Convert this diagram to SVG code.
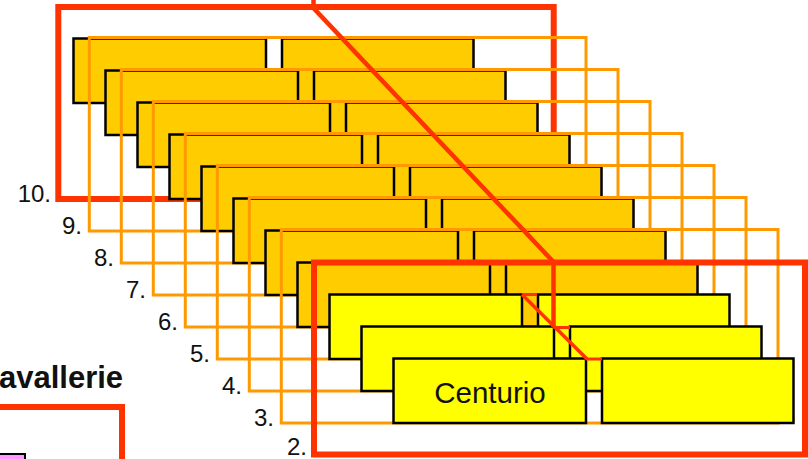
<svg xmlns="http://www.w3.org/2000/svg" width="808" height="459" viewBox="0 0 808 459">
<style>
.gold{fill:#FFCC00;stroke:#000;stroke-width:2.5}
.yel{fill:#FFFF00;stroke:#000;stroke-width:2.5}
.of{fill:none;stroke:#FF9900;stroke-width:3}
.rf{fill:none;stroke:#FF3300;stroke-width:6}
.lbl{font-family:"Liberation Sans",Arial,sans-serif;font-size:24px;fill:#111;text-anchor:end}
.red{fill:none;stroke:#FF3300}
</style>
<rect width="808" height="459" fill="#fff"/>
<g id="frame-10"><rect class="rf" x="58.3" y="7" width="495.4" height="192"/></g>
<g id="row-0"><rect class="gold" x="73.5" y="38.5" width="192.5" height="64.5"/><rect class="gold" x="282" y="38.5" width="191.5" height="64.5"/></g>
<g id="frame-9"><rect class="of" x="89.3" y="37.5" width="496.7" height="193.5"/></g>
<g id="row-1"><rect class="gold" x="105.5" y="70.5" width="192.5" height="64.5"/><rect class="gold" x="314" y="70.5" width="191.5" height="64.5"/></g>
<g id="frame-8"><rect class="of" x="121.3" y="69.5" width="496.7" height="193.5"/></g>
<g id="row-2"><rect class="gold" x="137.5" y="102.5" width="192.5" height="64.5"/><rect class="gold" x="346" y="102.5" width="191.5" height="64.5"/></g>
<g id="frame-7"><rect class="of" x="153.3" y="101.5" width="496.7" height="193.5"/></g>
<g id="row-3"><rect class="gold" x="169.5" y="134.5" width="192.5" height="64.5"/><rect class="gold" x="378" y="134.5" width="191.5" height="64.5"/></g>
<g id="frame-6"><rect class="of" x="185.3" y="133.5" width="496.7" height="193.5"/></g>
<g id="row-4"><rect class="gold" x="201.5" y="166.5" width="192.5" height="64.5"/><rect class="gold" x="410" y="166.5" width="191.5" height="64.5"/></g>
<g id="frame-5"><rect class="of" x="217.3" y="165.5" width="496.7" height="193.5"/></g>
<g id="row-5"><rect class="gold" x="233.5" y="198.5" width="192.5" height="64.5"/><rect class="gold" x="442" y="198.5" width="191.5" height="64.5"/></g>
<g id="frame-4"><rect class="of" x="249.3" y="197.5" width="496.7" height="193.5"/></g>
<g id="row-6"><rect class="gold" x="265.5" y="230.5" width="192.5" height="64.5"/><rect class="gold" x="474" y="230.5" width="191.5" height="64.5"/></g>
<g id="frame-3"><rect class="of" x="281.3" y="229.5" width="496.7" height="193.5"/></g>
<g id="row-7"><rect class="gold" x="297.5" y="262.5" width="192.5" height="64.5"/><rect class="gold" x="506" y="262.5" width="191.5" height="64.5"/></g>
<g id="frame-2"><rect class="rf" x="314" y="262.5" width="491" height="192"/></g>
<g id="row-8"><rect class="yel" x="329.5" y="294.5" width="192.5" height="64.5"/><rect class="yel" x="538" y="294.5" width="191.5" height="64.5"/></g>
<g id="row-9"><rect class="yel" x="361.5" y="326.5" width="192.5" height="64.5"/><rect class="yel" x="570" y="326.5" width="191.5" height="64.5"/></g>
<g id="row-10"><rect class="yel" x="393.5" y="358.5" width="192.5" height="64.5"/><rect class="yel" x="602" y="358.5" width="191.5" height="64.5"/>
<text x="490" y="403" font-family="Liberation Sans, Arial, sans-serif" font-size="29.5" text-anchor="middle" fill="#111">Centurio</text></g>
<g id="connectors">
<path class="red" d="M313.5,0 V8 L553.5,262 V327" stroke-width="4.5"/>
<path class="red" d="M553.5,327.5 H570" stroke-width="3"/>
<path class="red" d="M537,294.5 H522" stroke-width="3"/>
<path class="red" d="M522,294.5 L587,359" stroke-width="3.5"/>
<path class="red" d="M586,359 H602" stroke-width="3"/>
</g>
<g id="labels">
<text class="lbl" x="51" y="202">10.</text>
<text class="lbl" x="82" y="234">9.</text>
<text class="lbl" x="114" y="266">8.</text>
<text class="lbl" x="146" y="298">7.</text>
<text class="lbl" x="178" y="330">6.</text>
<text class="lbl" x="210" y="362">5.</text>
<text class="lbl" x="242" y="394">4.</text>
<text class="lbl" x="274" y="426">3.</text>
<text class="lbl" x="307" y="455">2.</text>
</g>
<g id="kavallerie">
<text x="-1" y="388" font-family="Liberation Sans, Arial, sans-serif" font-weight="bold" font-size="31" fill="#111">avallerie</text>
<rect class="rf" x="-10" y="407" width="132" height="100"/>
<rect x="-5" y="454" width="30" height="20" fill="#FF99FF" stroke="#000" stroke-width="2"/>
</g>
</svg>
